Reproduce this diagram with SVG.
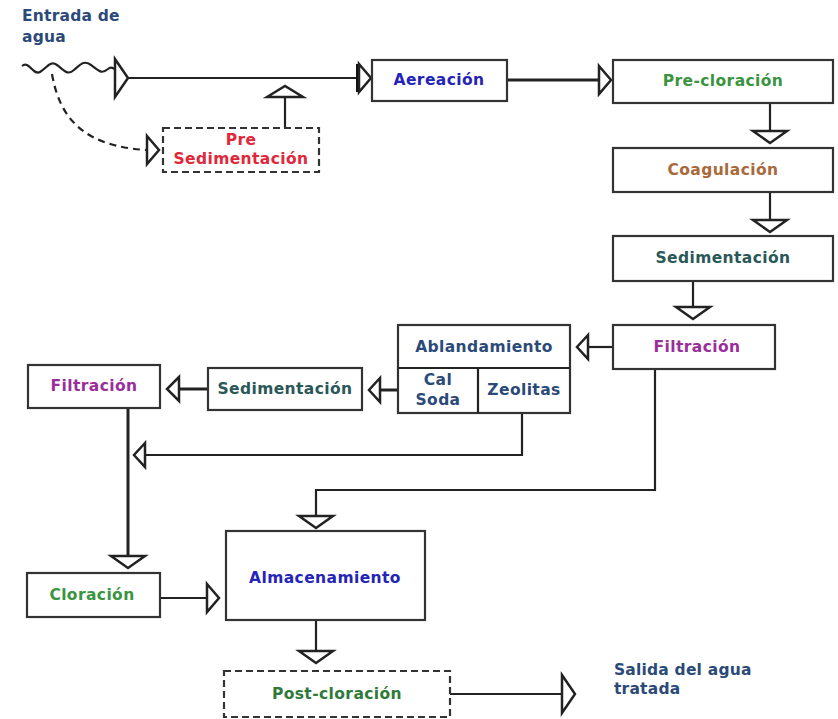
<svg xmlns="http://www.w3.org/2000/svg" xmlns:xlink="http://www.w3.org/1999/xlink" width="838" height="719" viewBox="0 0 838 719">
<style>
.box{fill:#fff;stroke:#333;stroke-width:2.2}
.dash{fill:#fff;stroke:#333;stroke-width:2.2;stroke-dasharray:7 4}
.t{font-family:"DejaVu Sans",Verdana,sans-serif;font-weight:bold;font-size:15.5px;letter-spacing:0.4px;text-anchor:middle;dominant-baseline:central}
.lbl{font-family:"DejaVu Sans",Verdana,sans-serif;font-weight:bold;font-size:15.5px;letter-spacing:0.2px;fill:#2b4a78}
.ln{fill:none;stroke:#222;stroke-width:2.2}
.thick{fill:none;stroke:#222;stroke-width:3}
.ah{fill:#fff;stroke:#222;stroke-width:2.5;stroke-linejoin:miter}
</style>
<defs>
<polygon id="aR" class="ah" points="-12,-14 0,0 -12,14"/>
<polygon id="aRbig" class="ah" points="-13,-19 0,0 -13,19"/>
<polygon id="aD" class="ah" points="-17,-12 0,0 17,-12"/>
</defs>
<rect width="838" height="719" fill="#fff"/>
<g id="connectors">
<path class="ln" d="M22,66 c7,-6 11,10 18,6 c7,-4 10,-12 17,-7 c7,5 10,11 17,5 c7,-6 10,-10 17,-5 c7,5 10,10 17,4 c3,-3 6,-1 9,2"/>
<use xlink:href="#aRbig" x="128" y="78"/>
<path class="ln" d="M128,78 H359"/>
<path d="M358,64 V92" stroke="#111" stroke-width="4"/>
<use xlink:href="#aR" x="371" y="78"/>
<path class="ln" d="M52,74 C60,120 85,146 146,150" stroke-dasharray="7 5"/>
<use xlink:href="#aR" x="159" y="150"/>
<path class="ln" d="M285,128 V97"/>
<polygon class="ah" points="267,97 285,86 303,97"/>
<path class="thick" d="M507,80 H598"/>
<use xlink:href="#aR" x="611" y="80"/>
<path class="ln" d="M770,103 V130"/>
<use xlink:href="#aD" x="770" y="143"/>
<path class="ln" d="M770,192 V219"/>
<use xlink:href="#aD" x="770" y="232"/>
<path class="ln" d="M693,281 V306"/>
<use xlink:href="#aD" x="693" y="319"/>
<path class="ln" d="M613,347 H588" stroke-width="1.5"/>
<polygon class="ah" points="588,335 577,347 588,359"/>
<path class="thick" d="M398,390 H380"/>
<polygon class="ah" points="380,378 369,390 380,402"/>
<path class="thick" d="M208,389 H179"/>
<polygon class="ah" points="179,377 167,389 179,401"/>
<path class="ln" d="M522,413 V455 H145"/>
<polygon class="ah" points="145,443 134,455 145,467"/>
<path class="thick" d="M128,408 V556"/>
<use xlink:href="#aD" x="128" y="568"/>
<path class="ln" d="M655,369 V490 H316 V515"/>
<use xlink:href="#aD" x="316" y="528"/>
<path class="ln" d="M160,598 H206"/>
<use xlink:href="#aR" x="219" y="598"/>
<path class="ln" d="M316,620 V650"/>
<use xlink:href="#aD" x="316" y="663"/>
<path class="ln" d="M450,694 H561"/>
<use xlink:href="#aRbig" x="575" y="694"/>
</g>
<g id="n-entrada">
<text class="lbl" x="22" y="21">Entrada de</text>
<text class="lbl" x="22" y="42">agua</text>
</g>
<g id="n-presed">
<rect class="dash" x="163" y="128" width="156" height="44"/>
<text class="t" x="241" y="140" fill="#e0283a">Pre</text>
<text class="t" x="241" y="159" fill="#e0283a">Sedimentación</text>
</g>
<g id="n-aereacion">
<rect class="box" x="372" y="60" width="135" height="41"/>
<text class="t" x="439" y="80" fill="#2424b8">Aereación</text>
</g>
<g id="n-precloracion">
<rect class="box" x="613" y="60" width="220" height="43"/>
<text class="t" x="723" y="81" fill="#3a9440">Pre-cloración</text>
</g>
<g id="n-coagulacion">
<rect class="box" x="613" y="148" width="220" height="44"/>
<text class="t" x="723" y="170" fill="#a86a3a">Coagulación</text>
</g>
<g id="n-sed1">
<rect class="box" x="613" y="236" width="220" height="45"/>
<text class="t" x="723" y="258" fill="#2a5858">Sedimentación</text>
</g>
<g id="n-filt1">
<rect class="box" x="613" y="325" width="162" height="44"/>
<text class="t" x="697" y="347" fill="#9a2e9a">Filtración</text>
</g>
<g id="n-ablandamiento">
<rect class="box" x="398" y="325" width="172" height="88"/>
<path class="ln" d="M398,368 H570 M478,368 V413"/>
<text class="t" x="484" y="347" fill="#2b4a78">Ablandamiento</text>
<text class="t" x="438" y="380" fill="#2b4a78">Cal</text>
<text class="t" x="438" y="400" fill="#2b4a78">Soda</text>
<text class="t" x="524" y="390" fill="#2b4a78">Zeolitas</text>
</g>
<g id="n-sed2">
<rect class="box" x="208" y="368" width="154" height="42"/>
<text class="t" x="285" y="389" fill="#2a5858">Sedimentación</text>
</g>
<g id="n-filt2">
<rect class="box" x="28" y="365" width="132" height="43"/>
<text class="t" x="94" y="386" fill="#9a2e9a">Filtración</text>
</g>
<g id="n-cloracion">
<rect class="box" x="27" y="573" width="133" height="44"/>
<text class="t" x="92" y="595" fill="#3a9440">Cloración</text>
</g>
<g id="n-almacenamiento">
<rect class="box" x="226" y="531" width="199" height="89"/>
<text class="t" x="325" y="578" fill="#2424b8">Almacenamiento</text>
</g>
<g id="n-postcloracion">
<rect class="dash" x="224" y="671" width="226" height="46"/>
<text class="t" x="337" y="694" fill="#2f7a38">Post-cloración</text>
</g>
<g id="n-salida">
<text class="lbl" x="614" y="675">Salida del agua</text>
<text class="lbl" x="614" y="694">tratada</text>
</g>
</svg>
